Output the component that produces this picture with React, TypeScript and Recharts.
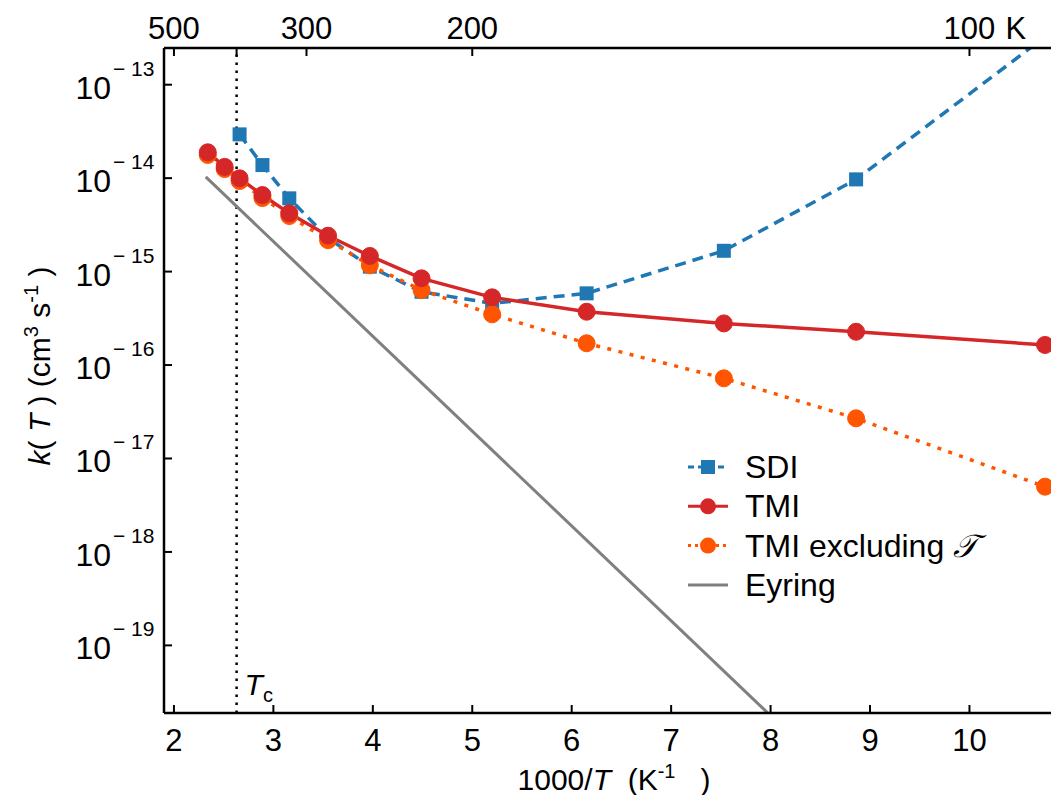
import React from "react";
import { LineChart, Line, XAxis, YAxis, ReferenceLine, Legend } from "recharts";

// 1000/T positions (K^-1) of the computed temperatures
const invT = [2.34, 2.51, 2.66, 2.89, 3.16, 3.55, 3.97, 4.49, 5.2, 6.15, 7.53, 8.86, 10.76];
const sdiX = [2.66, 2.89, 3.16, 3.55, 3.97, 4.49, 5.2, 6.15, 7.53, 8.86, 10.76];

// rate constants k(T), cm^3 s^-1
const sdiK = [2.94e-14, 1.38e-14, 6.08e-15, 2.29e-15, 1.13e-15, 6.08e-16, 4.57e-16, 5.85e-16, 1.67e-15, 9.7e-15, 3.25e-13];
const tmiK = [1.89e-14, 1.32e-14, 9.95e-15, 6.59e-15, 4.2e-15, 2.42e-15, 1.47e-15, 8.47e-16, 5.3e-16, 3.72e-16, 2.79e-16, 2.27e-16, 1.64e-16];
const tmiExclK = [1.77e-14, 1.25e-14, 9.31e-15, 6.12e-15, 3.93e-15, 2.17e-15, 1.17e-15, 6.34e-16, 3.49e-16, 1.71e-16, 7.21e-17, 2.69e-17, 4.99e-18];
const eyringX = [2.32, 7.97];
const eyringK = [1.03e-14, 1.9e-20];

const bottomTicks = [2, 3, 4, 5, 6, 7, 8, 9, 10];
const topTicks = [2, 2.63, 3.333, 5, 10];
const topLabels = ["500", "", "300", "200", "100"];
const yTicks = [1e-19, 1e-18, 1e-17, 1e-16, 1e-15, 1e-14, 1e-13];
const tc = 2.63;

const FONT = "'Liberation Sans', Arial, Helvetica, sans-serif";
const BLUE = "#1f77b4";
const RED = "#d62728";
const ORANGE = "#ff5500";
const GRAY = "#808080";
const NB = "\u00a0";

const toPoints = (xs: number[], ys: number[]) => xs.map((x, i) => ({ x, y: ys[i] }));

const sdiData = toPoints(sdiX, sdiK);
const tmiData = toPoints(invT, tmiK);
const tmiExclData = toPoints(invT, tmiExclK);
const eyringData = toPoints(eyringX, eyringK);

function BottomTick(props: any) {
  const { x, y, payload } = props;
  return (
    <g>
      <line x1={x} x2={x} y1={y} y2={y - 8} stroke="#000" strokeWidth={2} />
      <text x={x} y={y + 38} textAnchor="middle" fontSize={31} fontFamily={FONT} fill="#000">
        {payload.value}
      </text>
    </g>
  );
}

function TopTick(props: any) {
  const { x, y, index } = props;
  const label = topLabels[index] ?? "";
  return (
    <g>
      <line x1={x} x2={x} y1={y} y2={y + 8} stroke="#000" strokeWidth={2} />
      {label && (
        <text x={x} y={y - 9} textAnchor="middle" fontSize={31} fontFamily={FONT} fill="#000">
          {label}
        </text>
      )}
      {label === "100" && (
        <text x={x + 36} y={y - 9} textAnchor="start" fontSize={31} fontFamily={FONT} fill="#000">
          K
        </text>
      )}
    </g>
  );
}

function LeftTick(props: any) {
  const { x, y, payload } = props;
  const exp = Math.round(Math.log10(payload.value));
  return (
    <g>
      <line x1={x} x2={x + 8} y1={y} y2={y} stroke="#000" strokeWidth={2} />
      <text x={111} y={y + 14} textAnchor="end" fontSize={32} fontFamily={FONT} fill="#000">
        10
      </text>
      <text x={113} y={y - 9} textAnchor="start" fontSize={21} fontFamily={FONT} fill="#000">
        {"\u2212" + NB + Math.abs(exp)}
      </text>
    </g>
  );
}

function YLabel() {
  return (
    <text transform="rotate(-90, 50, 366)" x={50} y={366} textAnchor="middle" fontSize={30} fontFamily={FONT} fill="#000">
      <tspan fontStyle="italic">k</tspan>
      <tspan>{"(" + NB}</tspan>
      <tspan fontStyle="italic">T</tspan>
      <tspan>{NB + ")" + NB + "(cm"}</tspan>
      <tspan dy={-12} fontSize={20}>3</tspan>
      <tspan dy={12}>{NB + "s"}</tspan>
      <tspan dy={-12} fontSize={20}>-1</tspan>
      <tspan dy={12}>{NB + ")"}</tspan>
    </text>
  );
}

function XLabel() {
  return (
    <text x={614} y={790} textAnchor="middle" fontSize={30} fontFamily={FONT} fill="#000">
      <tspan>1000/</tspan>
      <tspan fontStyle="italic">T</tspan>
      <tspan>{NB + NB + "(K"}</tspan>
      <tspan dy={-12} fontSize={20}>-1</tspan>
      <tspan dy={12}>{NB + NB + NB + ")"}</tspan>
    </text>
  );
}

function TcLabel(props: any) {
  const x = props.viewBox?.x ?? 237;
  return (
    <text x={x + 8} y={695} fontSize={30} fontFamily={FONT} fill="#000">
      <tspan fontStyle="italic">T</tspan>
      <tspan dy={7} fontSize={20}>c</tspan>
    </text>
  );
}

function SquareDot(props: any) {
  const { cx, cy } = props;
  if (cx == null || cy == null) return <g />;
  return <rect x={cx - 7} y={cy - 7} width={14} height={14} fill={BLUE} />;
}

const legendRows = [
  { name: "SDI", color: BLUE, dash: "6 4", marker: "square" },
  { name: "TMI", color: RED, dash: undefined, marker: "circle" },
  { name: "TMI excluding" + NB, color: ORANGE, dash: "3 4", marker: "circle" },
  { name: "Eyring", color: GRAY, dash: undefined, marker: "none" },
];

function LegendBox() {
  return (
    <svg width={360} height={170}>
      {legendRows.map((r, i) => {
        const cy = 27 + i * 39.3;
        return (
          <g key={r.name}>
            <line x1={8} x2={48} y1={cy} y2={cy} stroke={r.color} strokeWidth={3} strokeDasharray={r.dash} />
            {r.marker === "square" && <rect x={21} y={cy - 7} width={14} height={14} fill={r.color} />}
            {r.marker === "circle" && <circle cx={28} cy={cy} r={8} fill={r.color} />}
            <text x={65} y={cy + 11} fontSize={32} fontFamily={FONT} fill="#000">
              {r.name}
              {i === 2 && (
                <tspan fontFamily="'DejaVu Sans', serif" fontStyle="italic">
                  {"\u{1D4AF}"}
                </tspan>
              )}
            </text>
          </g>
        );
      })}
    </svg>
  );
}

export default function App() {
  return (
    <div style={{ position: "absolute", left: 0, top: 0, background: "#fff" }}>
      <LineChart width={1051} height={795} margin={{ top: 0, right: 0, bottom: 0, left: 0 }}>
        <XAxis
          dataKey="x"
          type="number"
          domain={[1.9, 10.82]}
          allowDataOverflow
          ticks={bottomTicks}
          interval={0}
          height={82}
          tickSize={0}
          tickMargin={0}
          tickLine={false}
          tick={<BottomTick />}
          axisLine={{ stroke: "#000", strokeWidth: 2.5 }}
          label={<XLabel />}
        />
        <XAxis
          xAxisId="top"
          orientation="top"
          dataKey="x"
          type="number"
          domain={[1.9, 10.82]}
          allowDataOverflow
          ticks={topTicks}
          interval={0}
          height={48}
          tickSize={0}
          tickMargin={0}
          tickLine={false}
          tick={<TopTick />}
          axisLine={{ stroke: "#000", strokeWidth: 2.5 }}
        />
        <YAxis
          dataKey="y"
          scale="log"
          type="number"
          domain={[1.89e-20, 2.47e-13]}
          allowDataOverflow
          ticks={yTicks}
          interval={0}
          width={164}
          tickSize={0}
          tickMargin={0}
          tickLine={false}
          tick={<LeftTick />}
          axisLine={{ stroke: "#000", strokeWidth: 2.5 }}
          label={<YLabel />}
        />
        <ReferenceLine x={tc} stroke="#000" strokeWidth={2.5} strokeDasharray="2.5 5.5" label={<TcLabel />} />
        <Line
          data={eyringData}
          dataKey="y"
          stroke={GRAY}
          strokeWidth={3}
          dot={false}
          activeDot={false}
          isAnimationActive={false}
        />
        <Line
          data={sdiData}
          dataKey="y"
          stroke={BLUE}
          strokeWidth={3.5}
          strokeDasharray="11 7"
          dot={<SquareDot />}
          activeDot={false}
          isAnimationActive={false}
        />
        <Line
          data={tmiExclData}
          dataKey="y"
          stroke={ORANGE}
          strokeWidth={3.5}
          strokeDasharray="4 7.5"
          dot={{ r: 8.5, fill: ORANGE, stroke: ORANGE, strokeWidth: 1, strokeDasharray: "" }}
          activeDot={false}
          isAnimationActive={false}
        />
        <Line
          data={tmiData}
          dataKey="y"
          stroke={RED}
          strokeWidth={3.5}
          dot={{ r: 8.5, fill: RED, stroke: RED, strokeWidth: 1 }}
          activeDot={false}
          isAnimationActive={false}
        />
        <Legend
          layout="horizontal"
          verticalAlign="middle"
          align="center"
          content={<LegendBox />}
          wrapperStyle={{ left: 680, top: 440, width: 360, height: 170 }}
        />
      </LineChart>
    </div>
  );
}
